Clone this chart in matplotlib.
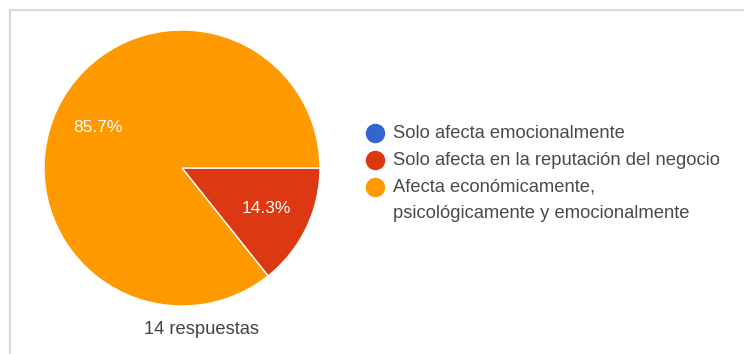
import matplotlib
matplotlib.use("Agg")
from matplotlib import pyplot as plt
from matplotlib.lines import Line2D
import numpy as np

plt.rcParams['font.family'] = ['Liberation Sans', 'DejaVu Sans']

# Survey answers (14 responses)
categories = ["Solo afecta emocionalmente",
              "Solo afecta en la reputación del negocio",
              "Afecta económicamente,\npsicológicamente y emocionalmente"]
counts = [0, 2, 12]
colors = ["#3366cc", "#dc3912", "#ff9900"]
total_label = "14 respuestas"

W, H = 744, 354
fig = plt.figure(figsize=(W / 100, H / 100), dpi=100)


def fx(px):
    return px / W


def fy(py):
    return 1 - py / H


# pie axes: centre (182, 168), radius 138 px
cx, cy, r = 182, 168, 138
ax = fig.add_axes([fx(cx - r), fy(cy + r), 2 * r / W, 2 * r / H])
total = sum(counts)
wedges, _ = ax.pie(counts, colors=colors, startangle=0, counterclock=False,
                   radius=1, wedgeprops=dict(edgecolor="white", linewidth=1))
# percentage labels inside the non-empty wedges
for w, c in zip(wedges, counts):
    if c == 0:
        continue
    ang = np.deg2rad((w.theta1 + w.theta2) / 2)
    ax.text(0.68 * np.cos(ang), 0.68 * np.sin(ang), "%.1f%%" % (100 * c / total),
            ha="center", va="center", color="white", fontsize=12.5)
ax.set_xlim(-1, 1)
ax.set_ylim(-1, 1)
ax.set_aspect("equal")
ax.axis("off")

fig.text(fx(201), fy(330), total_label, ha="center", va="center",
         fontsize=13.2, color="#444444")

# legend drawn by hand
row_y = 133
for name, col in zip(categories, colors):
    fig.add_artist(Line2D([fx(375)], [fy(row_y)], marker="o", markersize=13,
                          color=col, linestyle="none"))
    lines = name.split("\n")
    for i, line in enumerate(lines):
        fig.text(fx(393), fy(row_y + i * 27), line, ha="left", va="center",
                 fontsize=13.2, color="#4a4a4a")
    row_y += 27 * len(lines)

# light frame along the top and left
fig.add_artist(Line2D([fx(10), 1], [fy(9.5), fy(9.5)], color="#dadada", linewidth=1.5))
fig.add_artist(Line2D([fx(10), fx(10)], [fy(9.5), 0], color="#dadada", linewidth=1.5))

fig.savefig("out.png", dpi=100)
